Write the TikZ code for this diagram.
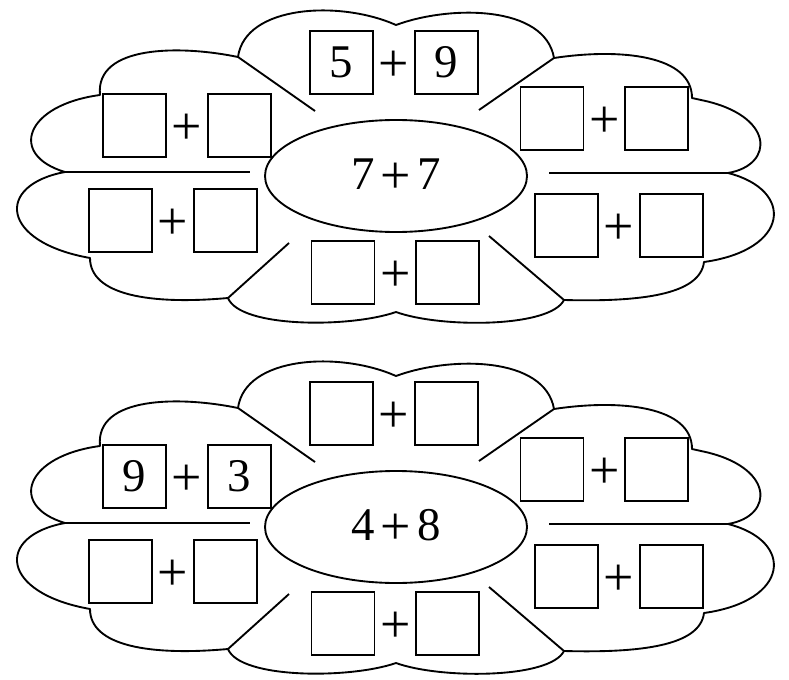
\documentclass[tikz,border=0pt]{standalone}
\usepackage{fontspec}
\setmainfont{Liberation Serif}
\usetikzlibrary{positioning,shapes.geometric}
\newcommand\bigplus{{\fontsize{46}{48}\selectfont\raisebox{-3pt}{+}}}
\tikzset{ every node/.style={inner sep=0pt,font=\fontsize{40}{42}\selectfont},
  cell/.style={draw,line width=1.5pt,minimum size=1.89cm},
  plus/.style={minimum width=1.2cm,yshift=-3pt},
  rim/.style={line width=1.6pt,line join=round}}

\begin{document}
\begin{tikzpicture}[x=0.03cm,y=-0.03cm]
\useasboundingbox (0,0) rectangle (789,680);
\foreach \dy/\f/\ma/\mb/\ta/\tb/\la/\lb in {0/a/7/7/5/9/{}/{}, 351/b/4/8/{}/{}/9/3}{
 \begin{scope}[shift={(0,\dy)}]
  \foreach \pos/\name in {{(238,57)/j1}, {(554,58)/j2}, {(728,173)/j3}, {(564,300)/j4}, {(228,298)/j5}, {(65,172)/j6},
      {(315,111)/e1}, {(479,110)/e2}, {(549,173)/e3}, {(489,236)/e4}, {(289,243)/e5}, {(250,172)/e6}}
        \path \pos coordinate (\f\name);
  % petals
  \draw[rim] (\f j1) .. controls (245,5) and (340,0) .. (396,25)
     .. controls (450,5) and (545,5) .. (\f j2)
     .. controls (620,48) and (692,55) .. (692,98) -- (701,100)
     .. controls (775,115) and (775,165) .. (\f j3)
     .. controls (795,190) and (790,250) .. (704,262)
     .. controls (700,295) and (640,302) .. (\f j4)
     .. controls (550,328) and (440,328) .. (396,312)
     .. controls (350,328) and (240,328) .. (\f j5)
     .. controls (150,305) and (90,295) .. (90,258)
     .. controls (0,242) and (-5,185) .. (\f j6)
     .. controls (8,155) and (25,105) .. (100,95)
     .. controls (95,45) and (180,45) .. (\f j1) -- cycle;
   \foreach \i in {1,...,6}
	\draw[rim] (\f j\i) -- (\f e\i);
  \node[ellipse,draw,rim,minimum width=7.86cm,minimum height=3.36cm] (\f c) at (396,176) {\ma\hskip.13em\bigplus\hskip.13em\mb};
  % boxes
  \foreach \pos/\name/\p/\q in {{(341.5,62.5)/t/\ta/\tb}, {(134.5,125.5)/l/\la/\lb}, {(120.5,220.5)/bl/{}/{}},
      {(343,272.5)/b/{}/{}}, {(552,118.5)/r/{}/{}}, {(566.5,225.5)/br/{}/{}}}{
    \node[cell] (\f\name1) at \pos {\p};
    \node[plus,right=0pt of \f\name1] (\f\name0) {\bigplus};
    \node[cell,right=1.2cm of \f\name1] (\f\name2) {\q};
  }
 \end{scope}
}
\end{tikzpicture}
\end{document}
